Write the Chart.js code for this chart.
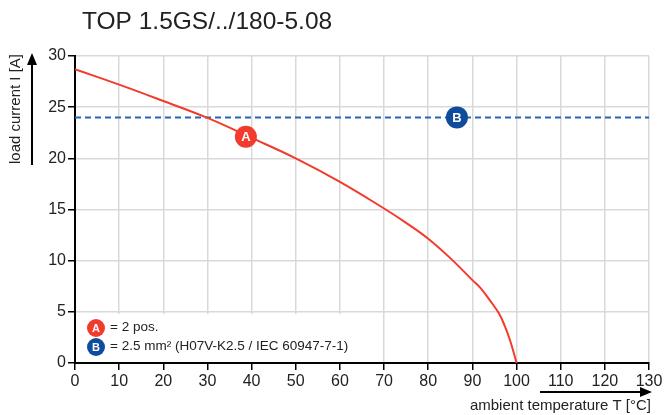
<!DOCTYPE html>
<html>

<head>
    <meta charset="utf-8">
    <title>TOP 1.5GS derating</title>
    <script src="https://cdn.jsdelivr.net/npm/chart.js"></script>
    <style>
        html, body { margin: 0; padding: 0; background: #fff; }
        #wrap { width: 665px; height: 415px; }
    </style>
</head>

<body>
    <div id="wrap"><canvas id="derating-chart"></canvas></div>
    <script>
        // derating curve
        const curveTemp = [0, 10, 20, 30, 40, 50, 60, 70, 75, 80, 85, 90, 92, 94, 96, 97.4, 98.5, 99.3, 100];
        const curveCurrent = [28.7, 27.2, 25.6, 23.95, 22.0, 20.0, 17.7, 15.1, 13.7, 12.15, 10.25, 8.1, 7.25, 6.1, 4.85, 3.55, 2.25, 1.1, 0];
        // wire limit (B)
        const limitTemp = [0, 130];
        const limitCurrent = [24, 24];
        // marker positions
        const markerA = { x: 38.7, y: 22.1 };
        const markerB = { x: 86.5, y: 24 };

        const xTicks = [0, 10, 20, 30, 40, 50, 60, 70, 80, 90, 100, 110, 120, 130];
        const yTicks = [0, 5, 10, 15, 20, 25, 30];

        const titleText = 'TOP 1.5GS/../180-5.08';
        const yLabel = 'load current I [A]';
        const xLabel = 'ambient temperature T [°C]';
        const legendA = '= 2 pos.';
        const legendB = '= 2.5 mm² (H07V-K2.5 / IEC 60947-7-1)';

        const RED = '#f23b2c';
        const BLUE = '#2565b5';
        const BLUE_DOT = '#0f4d9c';
        const FONT = '"Liberation Sans", Arial, sans-serif';

        function drawArrow(ctx, x1, y1, x2, y2) {
            const ang = Math.atan2(y2 - y1, x2 - x1);
            const len = 12, half = 5;
            ctx.strokeStyle = '#000';
            ctx.fillStyle = '#000';
            ctx.lineWidth = 2;
            ctx.beginPath();
            ctx.moveTo(x1, y1);
            ctx.lineTo(x2 - Math.cos(ang) * len, y2 - Math.sin(ang) * len);
            ctx.stroke();
            ctx.beginPath();
            ctx.moveTo(x2, y2);
            ctx.lineTo(x2 - Math.cos(ang) * len - Math.sin(ang) * half, y2 - Math.sin(ang) * len + Math.cos(ang) * half);
            ctx.lineTo(x2 - Math.cos(ang) * len + Math.sin(ang) * half, y2 - Math.sin(ang) * len - Math.cos(ang) * half);
            ctx.closePath();
            ctx.fill();
        }

        function badge(ctx, x, y, r, color, letter) {
            ctx.fillStyle = color;
            ctx.beginPath();
            ctx.arc(x, y, r, 0, Math.PI * 2);
            ctx.fill();
            ctx.fillStyle = '#fff';
            ctx.font = 'bold ' + Math.round(r * 1.2) + 'px ' + FONT;
            ctx.textAlign = 'center';
            ctx.textBaseline = 'middle';
            ctx.fillText(letter, x, y + 1);
        }

        const decorPlugin = {
            id: 'decor',
            beforeDatasetsDraw(chart) {
                // legend box hides the grid behind it
                const ctx = chart.ctx;
                ctx.save();
                ctx.fillStyle = '#fff';
                ctx.fillRect(77, 314, 286, 48);
                ctx.restore();
            },
            afterDraw(chart) {
                const ctx = chart.ctx;
                ctx.save();
                // title
                ctx.fillStyle = '#222';
                ctx.font = '24.5px ' + FONT;
                ctx.textAlign = 'left';
                ctx.textBaseline = 'middle';
                ctx.fillText(titleText, 82, 22);

                // y axis label + arrow
                ctx.save();
                ctx.translate(16, 109);
                ctx.rotate(-Math.PI / 2);
                ctx.font = '15px ' + FONT;
                ctx.textAlign = 'center';
                ctx.textBaseline = 'middle';
                ctx.fillStyle = '#222';
                ctx.fillText(yLabel, 0, 0);
                ctx.restore();
                drawArrow(ctx, 32, 165, 32, 53);

                // x axis label + arrow
                drawArrow(ctx, 540, 392, 652, 392);
                ctx.font = '15px ' + FONT;
                ctx.fillStyle = '#222';
                ctx.textAlign = 'right';
                ctx.textBaseline = 'middle';
                ctx.fillText(xLabel, 651, 406);

                // markers on the curves
                const a = chart.getDatasetMeta(2).data[0];
                const b = chart.getDatasetMeta(3).data[0];
                badge(ctx, a.x, a.y, 11, RED, 'A');
                badge(ctx, b.x, b.y, 11, BLUE_DOT, 'B');

                // legend
                badge(ctx, 96, 328, 9, RED, 'A');
                badge(ctx, 96, 347, 9, BLUE_DOT, 'B');
                ctx.font = '13.5px ' + FONT;
                ctx.fillStyle = '#222';
                ctx.textAlign = 'left';
                ctx.textBaseline = 'middle';
                ctx.fillText(legendA, 110, 327);
                ctx.fillText(legendB, 110, 346);
                ctx.restore();
            }
        };

        const chart = new Chart(document.getElementById('derating-chart'), {
            type: 'line',
            data: {
                datasets: [
                    {
                        label: 'A',
                        data: curveTemp.map((t, i) => ({ x: t, y: curveCurrent[i] })),
                        borderColor: RED,
                        borderWidth: 2,
                        pointRadius: 0,
                        tension: 0.4,
                        fill: false
                    },
                    {
                        label: 'B',
                        data: limitTemp.map((t, i) => ({ x: t, y: limitCurrent[i] })),
                        borderColor: BLUE,
                        borderWidth: 2,
                        borderDash: [6, 4],
                        pointRadius: 0,
                        fill: false
                    },
                    { label: 'markA', data: [markerA], pointRadius: 0, showLine: false },
                    { label: 'markB', data: [markerB], pointRadius: 0, showLine: false }
                ]
            },
            plugins: [decorPlugin],
            options: {
                responsive: true,
                maintainAspectRatio: false,
                animation: false,
                layout: { padding: { left: 0, right: 16, top: 56, bottom: 0 } },
                plugins: {
                    legend: { display: false },
                    tooltip: { enabled: false }
                },
                scales: {
                    x: {
                        type: 'linear',
                        min: 0,
                        max: 130,
                        afterBuildTicks: s => { s.ticks = xTicks.map(v => ({ value: v })); },
                        afterFit: s => { s.height = 52; },
                        border: { color: '#000', width: 2 },
                        grid: { color: '#d9d9d9', lineWidth: 1.5, tickColor: '#000', tickLength: 7 },
                        ticks: { color: '#222', font: { family: FONT, size: 16 }, padding: 2, maxRotation: 0 }
                    },
                    y: {
                        min: 0,
                        max: 30,
                        afterBuildTicks: s => { s.ticks = yTicks.map(v => ({ value: v })); },
                        afterFit: s => { s.width = 75; },
                        border: { color: '#000', width: 2 },
                        grid: { color: '#d9d9d9', lineWidth: 1.5, tickColor: '#000', tickLength: 7 },
                        ticks: { color: '#222', font: { family: FONT, size: 16 }, padding: 2 }
                    }
                }
            }
        });
    </script>
</body>

</html>
